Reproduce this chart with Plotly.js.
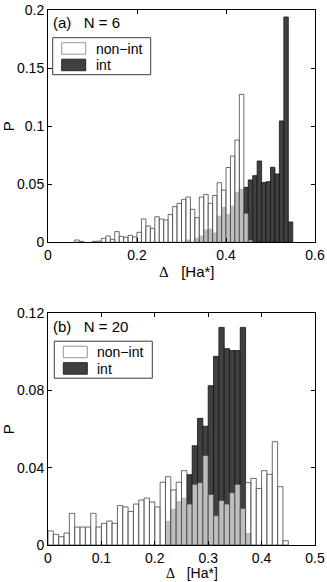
<!DOCTYPE html>
<html>
<head>
<meta charset="utf-8">
<script src="https://cdn.plot.ly/plotly-3.0.1.min.js"></script>
<style>
  body { margin: 0; background: white; }
  #plot_div { width: 327px; height: 582px; }
</style>
</head>
<body>
<div id="plot_div"></div>
<script>
// bin width and first bin edge of each series
var binW = 0.01;
var startNonA = 0.06, startIntA = 0.31;
var startNonB = 0.00, startIntB = 0.22;

// (a) N = 6
var nonIntA = [0.002, 0.0008, null, null, 0.0008, 0.001, 0.0034, 0.0054, 0.0025, 0.0092,
    0.0051, 0.0043, 0.006, 0.0046, 0.0086, 0.0201, 0.014, 0.012, 0.022, 0.020,
    0.0192, 0.024, 0.0307, 0.0335, 0.037, 0.039, 0.0284, 0.0212, 0.039, 0.0412,
    0.0335, 0.0403, 0.0513, 0.045, 0.0644, 0.0743, 0.088, 0.1274, 0.025, 0.002];
var intA = [0.002, null, 0.0034, 0.0054, 0.0106, 0.0113, 0.008, 0.0225, 0.030, 0.024,
    0.031, 0.043, 0.0456, 0.0473, 0.0537, 0.0574, 0.070, 0.0514, 0.0522, 0.0646,
    0.0588, 0.1045, 0.194, 0.0175];

// (b) N = 20
var nonIntB = [0.0073, 0.0055, 0.0043, 0.0062, 0.0164, 0.0093, 0.0093, 0.0093, 0.0164, 0.0093,
    0.0112, 0.0124, 0.0112, 0.0204, 0.0197, 0.0174, 0.0212, 0.0233, 0.0243, 0.0223,
    0.0197, 0.0325, 0.0354, 0.0285, 0.0325, 0.0385, 0.0212, 0.0314, 0.0323, 0.0463,
    0.0262, 0.0152, 0.0231, 0.0212, 0.0271, 0.0314, 0.019, 0.0323, 0.0345, 0.0293,
    0.0385, 0.0366, 0.0535, 0.0302, 0.0022];
var intB = [0.0123, 0.0185, 0.0224, 0.0242, 0.0364, 0.0514, 0.0656, 0.0615, 0.0825, 0.0977,
    0.1127, 0.1017, 0.1007, 0.1007, 0.1127, 0.006];

var seriesNames = ['non\u2212int', 'int'];
var panelLabels = ['(a)\u00a0\u00a0\u00a0N = 6', '(b)\u00a0\u00a0\u00a0N = 20'];
var xTitle = '<span style="font-family:Liberation Serif">\u0394</span>\u00a0\u00a0\u00a0[Ha*]';

var font = 'Liberation Sans, Arial, sans-serif';
var dark = 'rgb(64,64,64)';
var nonFill = 'rgba(255,255,255,0.66)';
var nonLine = 'rgb(70,70,70)';

function intTrace(y, start, xa, ya) {
    return {
        type: 'bar', y: y, x0: start + binW / 2, dx: binW, width: binW,
        xaxis: xa, yaxis: ya, name: seriesNames[1], showlegend: false,
        marker: { color: dark, line: { color: 'rgb(20,20,20)', width: 0.8 } },
        hoverinfo: 'skip'
    };
}
function nonTrace(y, start, xa, ya) {
    return {
        type: 'bar', y: y, x0: start + binW / 2, dx: binW, width: binW,
        xaxis: xa, yaxis: ya, name: seriesNames[0], showlegend: false,
        marker: { color: nonFill, line: { color: nonLine, width: 0.8 } },
        hoverinfo: 'skip'
    };
}

var data = [
    intTrace(intA, startIntA, 'x', 'y'),
    nonTrace(nonIntA, startNonA, 'x', 'y'),
    intTrace(intB, startIntB, 'x2', 'y2'),
    nonTrace(nonIntB, startNonB, 'x2', 'y2')
];

function xax(range, dtick, anchor) {
    return {
        domain: [0, 1], anchor: anchor, range: range, dtick: dtick,
        showline: true, mirror: 'ticks', linecolor: 'black', linewidth: 1,
        ticks: 'inside', ticklen: 4, tickcolor: 'black', showgrid: false, zeroline: false,
        tickfont: { size: 14, color: 'black' }
    };
}
function yax(range, dtick, domain, anchor) {
    return {
        domain: domain, anchor: anchor, range: range, dtick: dtick,
        showline: true, mirror: 'ticks', linecolor: 'black', linewidth: 1,
        ticks: 'inside', ticklen: 4, tickcolor: 'black', showgrid: false, zeroline: false,
        tickfont: { size: 14, color: 'black' },
        title: { text: 'P', font: { size: 15, color: 'black' } }
    };
}

// pixel -> paper helpers (plot area spans x 48..315, y 10..545)
function px(x) { return (x - 48) / 267; }
function py(y) { return (545 - y) / 535; }

var shapes = [], annotations = [];

// hand-made legend box like the MATLAB one: box, wide patches, labels
function addLegend(left, top) {
    shapes.push({ type: 'rect', xref: 'paper', yref: 'paper', x0: px(left), x1: px(left + 98),
        y0: py(top), y1: py(top + 37), fillcolor: 'white', line: { color: 'rgb(60,60,60)', width: 1 } });
    shapes.push({ type: 'rect', xref: 'paper', yref: 'paper', x0: px(left + 9), x1: px(left + 33),
        y0: py(top + 5), y1: py(top + 16.5), fillcolor: 'white', line: { color: 'rgb(150,150,150)', width: 1 } });
    shapes.push({ type: 'rect', xref: 'paper', yref: 'paper', x0: px(left + 9), x1: px(left + 33),
        y0: py(top + 21.5), y1: py(top + 33), fillcolor: dark, line: { color: 'rgb(40,40,40)', width: 1 } });
    annotations.push({ text: seriesNames[0], xref: 'paper', yref: 'paper', x: px(left + 41), y: py(top + 11),
        xanchor: 'left', yanchor: 'middle', showarrow: false, font: { size: 14 } });
    annotations.push({ text: seriesNames[1], xref: 'paper', yref: 'paper', x: px(left + 41), y: py(top + 27.5),
        xanchor: 'left', yanchor: 'middle', showarrow: false, font: { size: 14 } });
}
addLegend(52.7, 37.7);
addLegend(54.3, 341.2);

annotations.push({ text: panelLabels[0], xref: 'x domain', yref: 'y domain', x: 0.012, y: 0.948,
    xanchor: 'left', yanchor: 'middle', showarrow: false, font: { size: 15 } });
annotations.push({ text: panelLabels[1], xref: 'x2 domain', yref: 'y2 domain', x: 0.012, y: 0.942,
    xanchor: 'left', yanchor: 'middle', showarrow: false, font: { size: 15 } });
annotations.push({ text: xTitle, xref: 'paper', yref: 'paper', x: px(187), y: py(271),
    xanchor: 'center', yanchor: 'middle', showarrow: false, font: { size: 15 } });
annotations.push({ text: xTitle, xref: 'paper', yref: 'paper', x: px(192), y: py(573),
    xanchor: 'center', yanchor: 'middle', showarrow: false, borderpad: 0, font: { size: 14 } });

var layout = {
    width: 327, height: 582,
    margin: { l: 48, r: 12, t: 10, b: 37 },
    paper_bgcolor: 'white', plot_bgcolor: 'white',
    font: { family: font, color: 'black' },
    barmode: 'overlay', bargap: 0,
    showlegend: false,
    xaxis: xax([0, 0.6], 0.2, 'y'),
    yaxis: yax([0, 0.2], 0.05, [0.5658, 1], 'x'),
    xaxis2: xax([0, 0.5], 0.1, 'y2'),
    yaxis2: yax([0, 0.12], 0.04, [0, 0.4331], 'x2'),
    shapes: shapes,
    annotations: annotations
};

var config = { staticPlot: true, responsive: false };

Plotly.newPlot('plot_div', data, layout, config);
</script>
</body>
</html>
